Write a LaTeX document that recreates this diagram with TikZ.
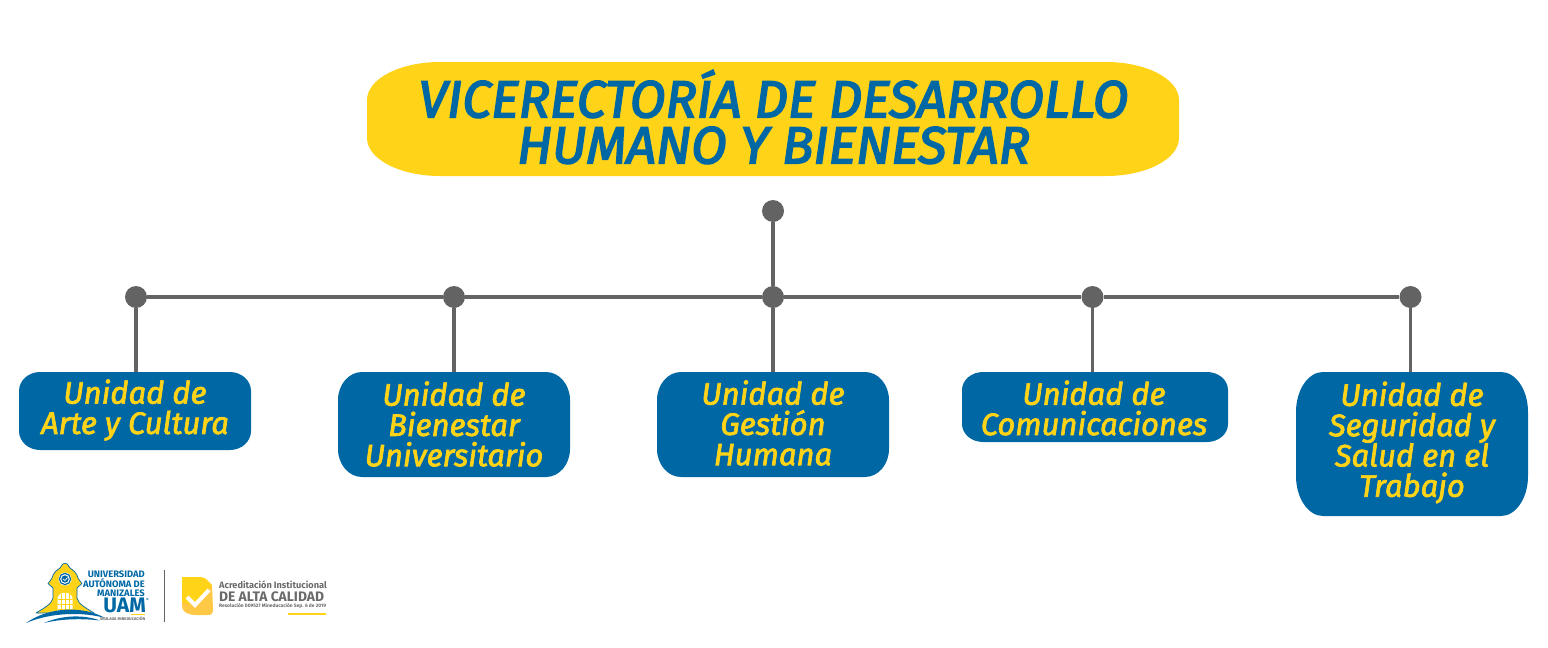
\documentclass[tikz,border=0pt]{standalone}
\usepackage{fontspec}
\setmainfont{Fira Sans}
\newfontfamily\heavyfont[ItalicFeatures={FakeBold=3.2}]{Fira Sans}
\newfontfamily\unitfont[ItalicFeatures={FakeBold=2.2}]{Fira Sans}
\newfontfamily\logofont{Fira Sans}
\definecolor{uamblue}{HTML}{0067A5}
\definecolor{uamyellow}{HTML}{FFD317}
\definecolor{lightyellow}{HTML}{FFC845}
\definecolor{linegray}{HTML}{636363}
\definecolor{logogray}{HTML}{6A6A6A}
\tikzset{
  dot/.style={circle,fill=linegray,draw=none,inner sep=0pt,minimum size=22pt},
  link/.style={linegray,line width=3.2pt},
  unittext/.style={text=uamyellow,align=center,inner sep=0pt,font=\unitfont\itshape\fontsize{31}{30.3}\selectfont},
  logotext/.style={inner sep=0pt,font=\logofont\bfseries},
}
% corners: x1 y1 x2 y2 rx ry colour
\newcommand{\ellbox}[7]{%
  \pgfmathsetmacro{\kx}{0.5523*#5}\pgfmathsetmacro{\ky}{0.5523*#6}%
  \fill[#7] ({#1+#5},#2) -- ({#3-#5},#2)
    .. controls ({#3-#5+\kx},#2) and (#3,{#2+#6-\ky}) .. (#3,{#2+#6})
    -- (#3,{#4-#6})
    .. controls (#3,{#4-#6+\ky}) and ({#3-#5+\kx},#4) .. ({#3-#5},#4)
    -- ({#1+#5},#4)
    .. controls ({#1+#5-\kx},#4) and (#1,{#4-#6+\ky}) .. (#1,{#4-#6})
    -- (#1,{#2+#6})
    .. controls (#1,{#2+#6-\ky}) and ({#1+#5-\kx},#2) .. ({#1+#5},#2) -- cycle;}
\begin{document}
\begin{tikzpicture}[x=1pt,y=-1pt]
\useasboundingbox (0,0) rectangle (1548,648);
% title
\ellbox{367}{62}{1179}{176}{73}{38}{uamyellow}
\node[text=uamblue,align=center,inner sep=0pt,font=\heavyfont\itshape\fontsize{52}{46}\selectfont] (title) at (773.5,117)
  {VICERECTORÍA DE DESARROLLO\\HUMANO Y BIENESTAR};
% boxes
\ellbox{19}{372}{251}{450}{21}{19}{uamblue}
\ellbox{338}{372}{570}{477}{24}{28}{uamblue}
\ellbox{657}{372}{889}{477}{24}{28}{uamblue}
\ellbox{962}{372}{1228}{442}{21}{18}{uamblue}
\ellbox{1296}{372}{1528}{516}{27}{40}{uamblue}
\node[unittext] (u1) at (135,410) {Unidad de\\Arte y Cultura};
\node[unittext] (u2) at (454,424) {Unidad de\\Bienestar\\Universitario};
\node[unittext] (u3) at (773,423) {Unidad de\\Gestión\\Humana};
\node[unittext] (u4) at (1094,408) {Unidad de\\Comunicaciones};
\node[unittext] (u5) at (1412,442.5) {Unidad de\\Seguridad y\\Salud en el\\Trabajo};
\coordinate (b1) at (136,372);
\coordinate (b2) at (454,372);
\coordinate (b3) at (773,372);
\coordinate (b4) at (1092.5,372);
\coordinate (b5) at (1410.5,372);
% connectors
\node[dot] (top) at (773,211) {};
\node[dot] (d1) at (136,297) {};
\node[dot] (d2) at (454,297) {};
\node[dot] (d3) at (773,297) {};
\node[dot] (d4) at (1092.5,297) {};
\node[dot] (d5) at (1410.5,297) {};
\draw[link] (d1) -- (d2);
\draw[link] (d2) -- (d3);
\draw[link] (d3) -- (d4);
\draw[link] (d4) -- (d5);
\draw[link] (top) -- (d3);
\draw[link] (d1) -- (b1);
\draw[link] (d2) -- (b2);
\draw[link] (d3) -- (b3);
\draw[link] (d4) -- (b4);
\draw[link] (d5) -- (b5);
% UAM logo: building
\draw[uamblue,line width=0.7pt,fill=uamyellow,line join=round]
  (36,613) .. controls (44,608) and (52,604) .. (53,598) -- (53,588) -- (48,583.5)
  .. controls (50,581) and (51,580) .. (52,578) .. controls (53,573) and (57,570) .. (60,568)
  -- (62,565) .. controls (62,563) and (68,563) .. (68,565) -- (70,568)
  .. controls (73,570) and (77,573) .. (78,578) .. controls (79,580) and (80,581) .. (82,583.5)
  -- (77,588) -- (77,598) .. controls (78,604) and (86,608) .. (94,613) -- cycle;
\fill[white] (57.5,613) -- (57.5,598) .. controls (59,591) and (71,591) .. (72.5,598) -- (72.5,613) -- cycle;
\draw[uamyellow,line width=0.7pt] (61,613) -- (61,594) (65,613) -- (65,593) (69,613) -- (69,594)
  (57.5,599) -- (72.5,599) (57.5,604) -- (72.5,604) (57.5,609) -- (72.5,609);
\fill[white] (65,579) circle (6.5);
\draw[uamblue,line width=1.2pt] (65,579) circle (5.6);
\fill[uamblue] (65,579) circle (3.6);
\draw[white,line width=0.7pt] (63,579) -- (65,580.5) -- (67.5,577.5);
% UAM logo: swooshes
\fill[white] (24,624) .. controls (48,606) and (85,606) .. (108,619) -- (108,625) -- (24,625) -- cycle;
\fill[uamblue] (26,623) .. controls (50,606) and (84,606) .. (105,618)
  .. controls (84,612) and (52,612) .. (26,623) -- cycle;
\fill[uamblue] (44,623) .. controls (62,615) and (84,614.5) .. (100,620.5)
  .. controls (84,618.5) and (62,618.5) .. (44,623) -- cycle;
\node[logotext,anchor=east,align=right,text=uamblue,font=\logofont\bfseries\fontsize{9.4}{8.4}\selectfont] (uni) at (145,583.5)
  {UNIVERSIDAD\\AUTÓNOMA DE\\MANIZALES};
\node[logotext,anchor=east,text=uamblue,font=\logofont\bfseries\fontsize{21}{18}\selectfont] (uam) at (146,605) {UAM};
\node[logotext,anchor=west,text=uamblue,font=\logofont\bfseries\fontsize{4}{4}\selectfont] (reg) at (146,600) {®};
\fill[uamyellow] (131,613.5) rectangle (145,614.5);
\node[logotext,anchor=east,text=logogray,font=\logofont\bfseries\fontsize{4}{4}\selectfont] (vig) at (145.5,619) {VIGILADA MINEDUCACIÓN};
\draw[linegray,line width=0.8pt] (164,570) -- (164,622);
% accreditation logo
\fill[lightyellow] (182,600) -- (212,585) -- (213,609) .. controls (213,613) and (212,615) .. (208,615) -- (196,615) .. controls (188,615) and (182,612) .. (182,606) -- cycle;
\fill[uamyellow] (182,577) -- (200,577) .. controls (206,577) and (208,581) .. (212,585) -- (195,605) -- (182,602) -- cycle;
\draw[white,line width=4pt] (187,597) -- (195,605) -- (209,590);
\node[logotext,anchor=west,text=logogray,font=\logofont\bfseries\fontsize{9.2}{9}\selectfont] (acr) at (219,584.5) {Acreditación Institucional};
\node[logotext,anchor=west,text=logogray,font=\logofont\bfseries\fontsize{13.8}{13}\selectfont] (alta) at (219,596.5) {DE ALTA CALIDAD};
\node[logotext,anchor=west,text=logogray,font=\logofont\bfseries\fontsize{4.9}{5}\selectfont] (res) at (219,606) {Resolución 009527 Mineducación Sep. 6 de 2019};
\fill[uamyellow] (288,613) rectangle (326,615);
\end{tikzpicture}
\end{document}
